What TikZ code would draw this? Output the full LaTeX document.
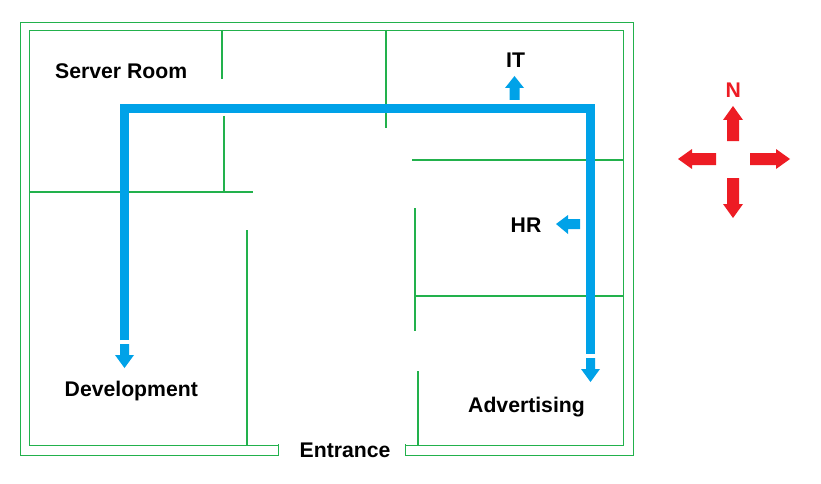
\documentclass[tikz,border=0pt]{standalone}
\usepackage{fontspec}
\setmainfont{Liberation Sans}
\definecolor{wallgreen}{HTML}{22B14C}
\definecolor{routeblue}{HTML}{00A2E8}
\definecolor{compassred}{HTML}{ED1C24}
\tikzset{
  outline/.style={draw=wallgreen,line width=1.5pt},
  wall/.style={draw=wallgreen,line width=2.1pt},
  route/.style={draw=routeblue,line width=9pt,line join=miter},
  bluefill/.style={fill=routeblue,draw=none},
  redfill/.style={fill=compassred,draw=none},
  label/.style={anchor=base west,inner sep=0pt,font=\fontsize{21.2}{23}\selectfont\bfseries,text=black},
}
\begin{document}
\begin{tikzpicture}[x=1pt,y=-1pt]
\useasboundingbox (0,0) rectangle (821,484);
\fill[white] (0,0) rectangle (821,484);
% outer walls with the entrance gap
\draw[outline] (278.5,444) -- (278.5,455.5) -- (20.5,455.5) -- (20.5,22.5) -- (633.5,22.5) -- (633.5,455.5) -- (405.5,455.5) -- (405.5,444);
\draw[outline] (278.5,445.5) -- (29.5,445.5) -- (29.5,30.5) -- (623.5,30.5) -- (623.5,445.5) -- (405.5,445.5);
% inner walls
\draw[wall] (222,30) -- (222,79);
\draw[wall] (224,116) -- (224,192);
\draw[wall] (30,192) -- (253,192);
\draw[wall] (386,30) -- (386,128);
\draw[wall] (412,160) -- (623,160);
\draw[wall] (415,208) -- (415,331);
\draw[wall] (415,296) -- (623,296);
\draw[wall] (418,371) -- (418,445);
\draw[wall] (247,230) -- (247,445);
% route
\draw[route] (124.5,340) -- (124.5,109) -- (590.5,109) -- (590.5,354);
% route arrows
\fill[bluefill] (120,344) -- (129,344) -- (129,355) -- (134,355) -- (124.5,368) -- (115,355) -- (120,355) -- cycle;
\fill[bluefill] (586,358) -- (595,358) -- (595,369) -- (600,369) -- (590.5,382) -- (581,369) -- (586,369) -- cycle;
\fill[bluefill] (509.5,100) -- (519.5,100) -- (519.5,88) -- (524,88) -- (514.5,76) -- (505,88) -- (509.5,88) -- cycle;
\fill[bluefill] (580,219) -- (580,229) -- (568,229) -- (568,234) -- (556,224) -- (568,215) -- (568,219) -- cycle;
% compass
\fill[redfill] (727,141) -- (739,141) -- (739,120) -- (743,120) -- (733,106) -- (723,120) -- (727,120) -- cycle;
\fill[redfill] (727,178) -- (739,178) -- (739,204) -- (743,204) -- (733,218) -- (723,204) -- (727,204) -- cycle;
\fill[redfill] (716,153) -- (716,165) -- (692,165) -- (692,169) -- (678,159) -- (692,149) -- (692,153) -- cycle;
\fill[redfill] (750,153) -- (750,165) -- (776,165) -- (776,169) -- (790,159) -- (776,149) -- (776,153) -- cycle;
% labels
\node[label] (server) at (55,79) {Server Room};
\node[label] (it) at (506,68) {IT};
\node[label] (hr) at (510.5,232) {HR};
\node[label] (dev) at (64.5,396) {Development};
\node[label] (adv) at (468,412) {Advertising};
\node[label] (ent) at (299.5,457) {Entrance};
\node[label,text=compassred] (north) at (725.5,98) {N};
\end{tikzpicture}
\end{document}
